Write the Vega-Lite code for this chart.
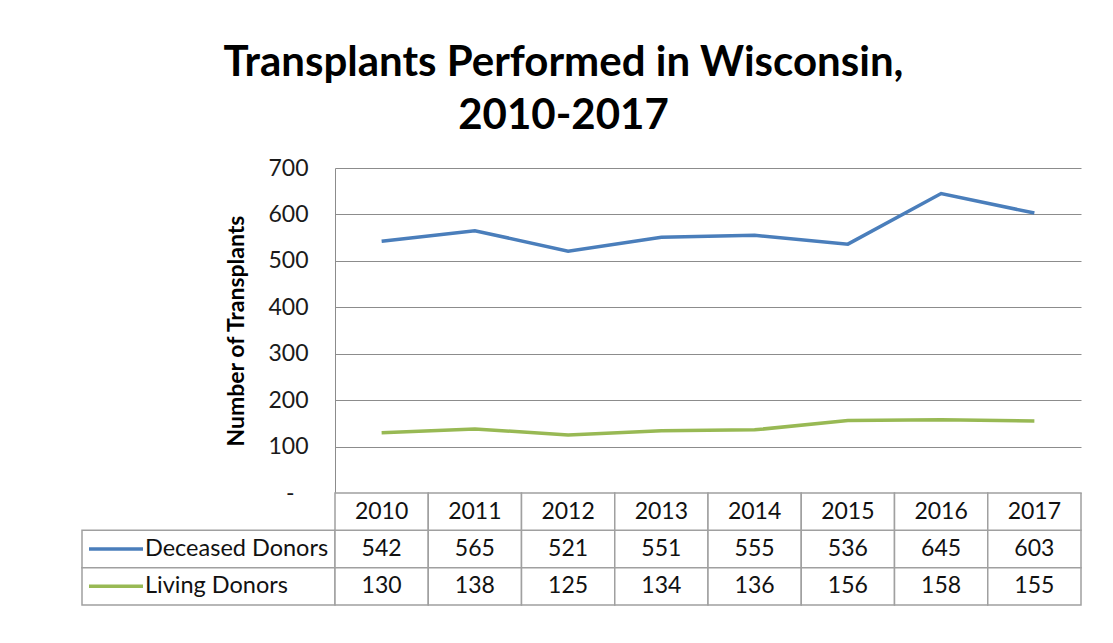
{
  "$schema": "https://vega.github.io/schema/vega-lite/v6.json",
  "background": "white",
  "padding": {"left": 81, "top": 42, "right": 20, "bottom": 10},
  "title": {
    "text": ["Transplants Performed in Wisconsin,", "2010-2017"],
    "font": "Lato", "fontSize": 42, "fontWeight": "bold", "color": "black",
    "lineHeight": 53, "anchor": "middle", "dx": -18, "offset": 19
  },
  "config": {"view": {"stroke": null}, "font": "Lato"},
  "datasets": {
    "d": [
      {"year": "2010", "series": "Deceased Donors", "value": 542},
      {"year": "2011", "series": "Deceased Donors", "value": 565},
      {"year": "2012", "series": "Deceased Donors", "value": 521},
      {"year": "2013", "series": "Deceased Donors", "value": 551},
      {"year": "2014", "series": "Deceased Donors", "value": 555},
      {"year": "2015", "series": "Deceased Donors", "value": 536},
      {"year": "2016", "series": "Deceased Donors", "value": 645},
      {"year": "2017", "series": "Deceased Donors", "value": 603},
      {"year": "2010", "series": "Living Donors", "value": 130},
      {"year": "2011", "series": "Living Donors", "value": 138},
      {"year": "2012", "series": "Living Donors", "value": 125},
      {"year": "2013", "series": "Living Donors", "value": 134},
      {"year": "2014", "series": "Living Donors", "value": 136},
      {"year": "2015", "series": "Living Donors", "value": 156},
      {"year": "2016", "series": "Living Donors", "value": 158},
      {"year": "2017", "series": "Living Donors", "value": 155}
    ]
  },
  "columns": 2,
  "spacing": 0,
  "bounds": "flush",
  "align": "each",
  "resolve": {"scale": {"color": "shared"}},
  "concat": [
    {
      "width": 253, "height": 325,
      "data": {"values": [{"a": 1}]},
      "mark": {"type": "text", "text": ""}
    },
    {
      "width": 746, "height": 325,
      "data": {"name": "d"},
      "mark": {"type": "line", "strokeWidth": 3.5},
      "encoding": {
        "x": {"field": "year", "type": "ordinal", "scale": {"type": "point", "padding": 0.5}, "axis": null},
        "y": {
          "field": "value", "type": "quantitative",
          "scale": {"domain": [0, 700], "nice": false},
          "axis": {
            "values": [0, 100, 200, 300, 400, 500, 600, 700],
            "labelExpr": "datum.value == 0 ? '-' : datum.label",
            "title": "Number of Transplants", "titleFontSize": 23, "titleFontWeight": "bold",
            "titleColor": "black", "titlePadding": 19,
            "labelFontSize": 23, "labelColor": "#1a1a1a",
            "labelPadding": {"condition": {"test": "datum.value == 0", "value": 41}, "value": 27},
            "ticks": false, "domain": true, "domainColor": "#8c8c8c",
            "grid": true, "gridColor": "#8c8c8c", "gridOpacity": 1
          }
        },
        "color": {
          "field": "series", "type": "nominal",
          "scale": {"domain": ["Deceased Donors", "Living Donors"], "range": ["#4A7EBB", "#98B954"]},
          "legend": null
        }
      }
    },
    {
      "width": 253, "height": 112,
      "data": {"name": "d"},
      "transform": [{"filter": "datum.year == '2010'"}],
      "encoding": {
        "y": {
          "field": "series", "type": "nominal",
          "scale": {"domain": ["header", "Deceased Donors", "Living Donors"], "paddingInner": 0, "paddingOuter": 0},
          "axis": null
        }
      },
      "layer": [
        {
          "mark": {"type": "rect", "fill": "white", "stroke": "#a0a0a0", "strokeWidth": 1.5},
          "encoding": {"x": {"value": 0}, "x2": {"value": "width"}}
        },
        {
          "mark": {"type": "point", "shape": "M-1,0L1,0", "size": 2916, "strokeWidth": 3.5, "filled": false, "opacity": 1},
          "encoding": {
            "x": {"value": 34},
            "color": {"field": "series", "type": "nominal", "legend": null}
          }
        },
        {
          "mark": {"type": "text", "align": "left", "fontSize": 23.5, "color": "#111111", "baseline": "middle"},
          "encoding": {"x": {"value": 63}, "text": {"field": "series"}}
        }
      ]
    },
    {
      "width": 746, "height": 112,
      "data": {"name": "d"},
      "encoding": {
        "x": {"field": "year", "type": "ordinal", "scale": {"type": "band", "paddingInner": 0, "paddingOuter": 0}, "axis": null},
        "y": {
          "field": "series", "type": "nominal",
          "scale": {"domain": ["header", "Deceased Donors", "Living Donors"], "paddingInner": 0, "paddingOuter": 0},
          "axis": null
        }
      },
      "layer": [
        {
          "mark": {"type": "rect", "fill": "white", "stroke": "#a0a0a0", "strokeWidth": 1.5}
        },
        {
          "transform": [{"filter": "datum.series == 'Deceased Donors'"}],
          "mark": {"type": "rect", "fill": "white", "stroke": "#a0a0a0", "strokeWidth": 1.5},
          "encoding": {"y": {"datum": "header"}}
        },
        {
          "mark": {"type": "text", "fontSize": 23, "color": "#111111", "baseline": "middle"},
          "encoding": {"text": {"field": "value"}}
        },
        {
          "transform": [{"filter": "datum.series == 'Deceased Donors'"}],
          "mark": {"type": "text", "fontSize": 23, "color": "#111111", "baseline": "middle"},
          "encoding": {"y": {"datum": "header"}, "text": {"field": "year"}}
        }
      ]
    }
  ]
}
